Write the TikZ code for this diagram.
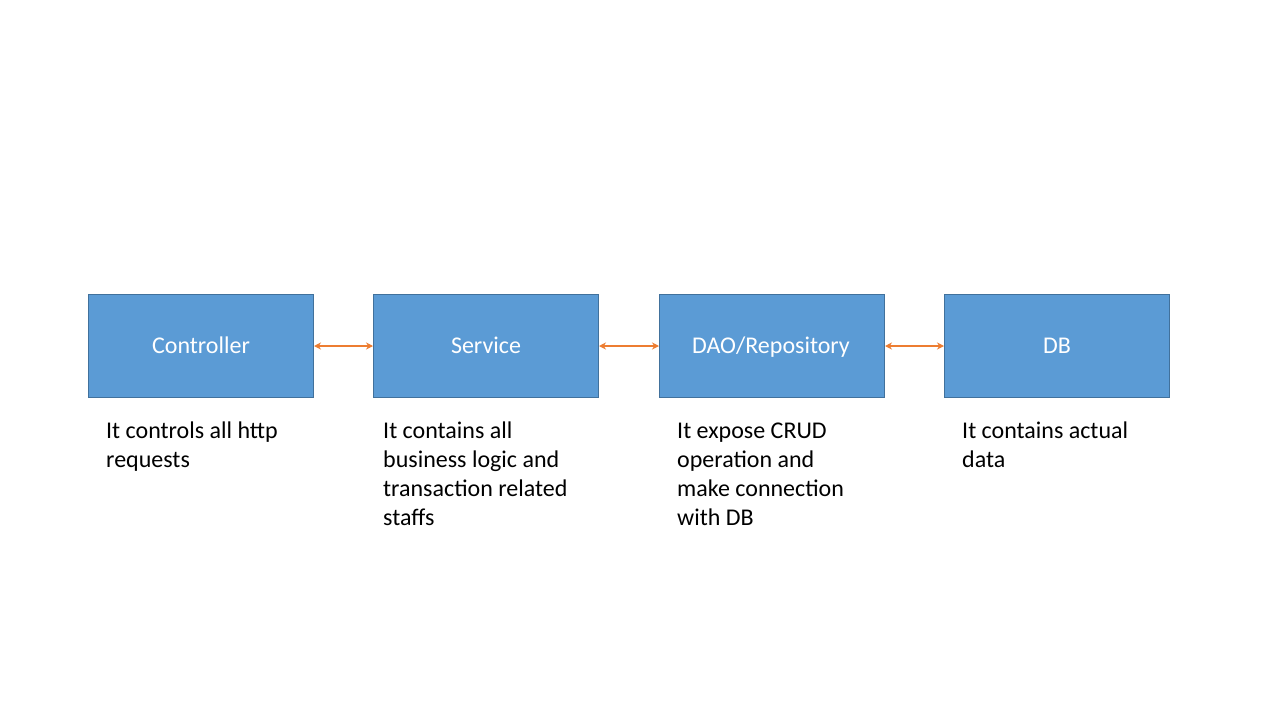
\documentclass[tikz,border=0pt]{standalone}
\usepackage{fontspec}
\setmainfont{Carlito}
\usetikzlibrary{arrows.meta}
\definecolor{boxfill}{HTML}{5B9BD5}
\definecolor{boxline}{HTML}{41719C}
\definecolor{arrowc}{HTML}{ED7D31}
\begin{document}
\begin{tikzpicture}[x=1pt,y=-1pt,
  layer/.style={draw=boxline,line width=1pt,fill=boxfill,minimum width=225pt,minimum height=103pt,anchor=north west,inner sep=0pt},
  lbl/.style={text=white,font=\fontsize{24pt}{29pt}\selectfont,anchor=base},
  desc/.style={font=\fontsize{24pt}{29pt}\selectfont,anchor=base west,align=left,inner sep=0pt},
  link/.style={draw=arrowc,line width=1.6pt,{Stealth[length=7pt,width=7pt]}-{Stealth[length=7pt,width=7pt]}}]
\useasboundingbox (0,0) rectangle (1280,720);
\fill[white] (0,0) rectangle (1280,720);
\node[layer] (c) at (88,294) {};
\node[layer] (s) at (373,294) {};
\node[layer] (d) at (659,294) {};
\node[layer] (b) at (944,294) {};
\node[lbl] (cl) at (201,353) {Controller};
\node[lbl] (sl) at (486,353) {Service};
\node[lbl] (dl) at (771,353) {DAO/Repository};
\node[lbl] (bl) at (1057,353) {DB};
\draw[link] (c.east) -- (s.west);
\draw[link] (s.east) -- (d.west);
\draw[link] (d.east) -- (b.west);
% base anchor of a multi-line node is the baseline of its last line
\node[desc] (cd) at (106,467) {It controls all http\\requests};
\node[desc] (sd) at (383,525) {It contains all\\business logic and\\transaction related\\staffs};
\node[desc] (dd) at (677,525) {It expose CRUD\\operation and\\make connection\\with DB};
\node[desc] (bd) at (962,467) {It contains actual\\data};
\end{tikzpicture}
\end{document}
